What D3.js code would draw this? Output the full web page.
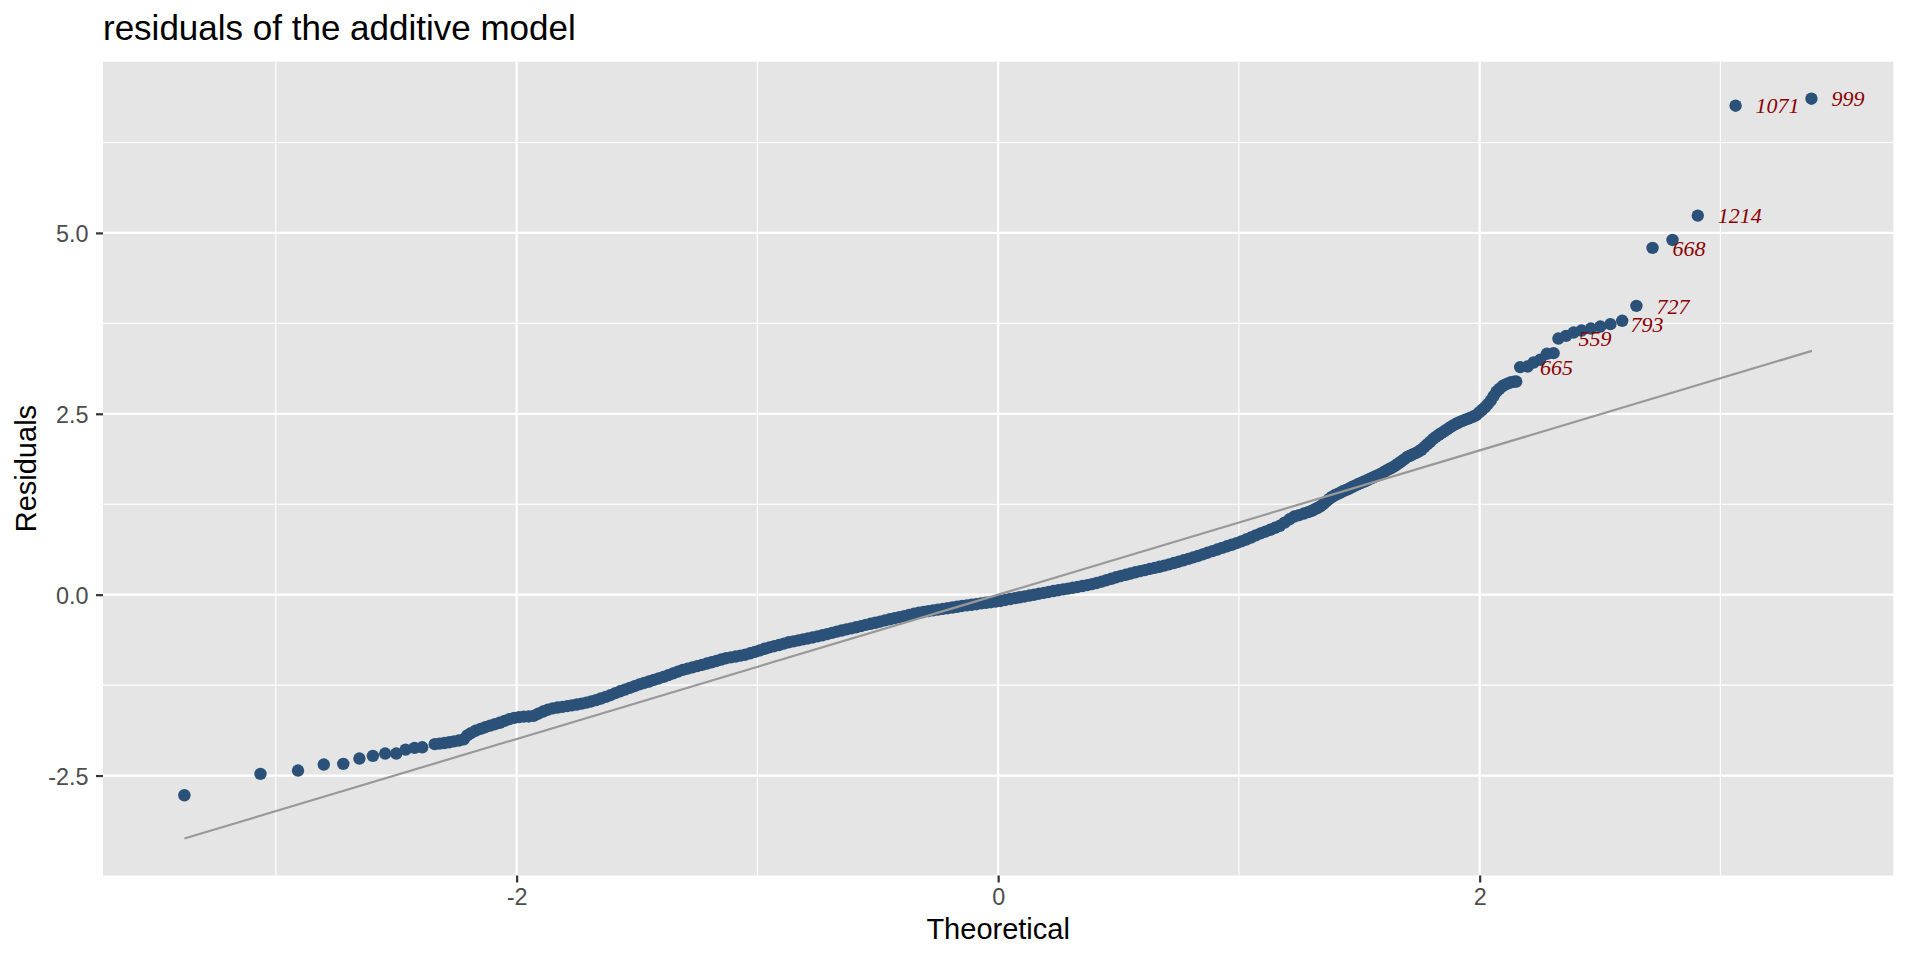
<!DOCTYPE html>
<html>
<head>
<meta charset="utf-8">
<script src="https://cdn.jsdelivr.net/npm/d3@7"></script>
<style>
  html, body { margin: 0; padding: 0; background: #fff; }
  svg text { font-family: "Liberation Sans", Arial, Helvetica, sans-serif; }
</style>
</head>
<body>
<div id="chart"></div>
<script>
// values: [theoretical quantile, residual]
const lowerTail = [
  [-3.380, -2.772], [-3.064, -2.477], [-2.908, -2.431], [-2.801, -2.348],
  [-2.720, -2.339], [-2.653, -2.265], [-2.597, -2.228], [-2.546, -2.196],
  [-2.500, -2.196], [-2.461, -2.141], [-2.424, -2.118], [-2.392, -2.109]
];

// the dense part of the curve, where the dots run together
const band = [
  [-2.34, -2.066], [-2.32, -2.058], [-2.30, -2.050], [-2.28, -2.040], [-2.26, -2.028],
  [-2.24, -2.016], [-2.22, -2.000], [-2.205, -1.945], [-2.19, -1.915], [-2.17, -1.880],
  [-2.15, -1.855], [-2.13, -1.832], [-2.11, -1.810], [-2.09, -1.790], [-2.07, -1.770],
  [-2.05, -1.744], [-2.03, -1.720], [-2.01, -1.703], [-1.99, -1.692], [-1.97, -1.686],
  [-1.95, -1.683], [-1.93, -1.675], [-1.91, -1.645], [-1.89, -1.615], [-1.87, -1.590],
  [-1.85, -1.572], [-1.83, -1.560], [-1.81, -1.550], [-1.79, -1.540], [-1.77, -1.530],
  [-1.75, -1.518], [-1.73, -1.506], [-1.71, -1.492], [-1.69, -1.476], [-1.67, -1.458],
  [-1.65, -1.435], [-1.63, -1.412], [-1.61, -1.388], [-1.59, -1.360], [-1.57, -1.335],
  [-1.55, -1.312], [-1.53, -1.288], [-1.51, -1.264], [-1.49, -1.240], [-1.47, -1.220],
  [-1.45, -1.200], [-1.43, -1.178], [-1.41, -1.158], [-1.39, -1.136], [-1.37, -1.112],
  [-1.35, -1.088], [-1.33, -1.064], [-1.31, -1.040], [-1.29, -1.022], [-1.27, -1.005],
  [-1.25, -0.988], [-1.23, -0.970], [-1.21, -0.952], [-1.19, -0.934], [-1.17, -0.916],
  [-1.15, -0.896], [-1.13, -0.878], [-1.11, -0.866], [-1.09, -0.855], [-1.07, -0.843],
  [-1.05, -0.830], [-1.03, -0.810], [-1.01, -0.790], [-0.99, -0.770], [-0.97, -0.748],
  [-0.95, -0.729], [-0.93, -0.712], [-0.91, -0.696], [-0.89, -0.677], [-0.87, -0.658],
  [-0.85, -0.645], [-0.83, -0.632], [-0.81, -0.618], [-0.79, -0.605], [-0.77, -0.591],
  [-0.75, -0.576], [-0.73, -0.561], [-0.71, -0.545], [-0.69, -0.528], [-0.67, -0.511],
  [-0.65, -0.495], [-0.63, -0.480], [-0.61, -0.466], [-0.59, -0.451], [-0.57, -0.434],
  [-0.55, -0.417], [-0.53, -0.402], [-0.51, -0.388], [-0.49, -0.372], [-0.47, -0.355],
  [-0.45, -0.340], [-0.43, -0.325], [-0.41, -0.311], [-0.39, -0.296], [-0.37, -0.281],
  [-0.35, -0.264], [-0.33, -0.250], [-0.31, -0.239], [-0.29, -0.228], [-0.27, -0.217],
  [-0.25, -0.206], [-0.23, -0.196], [-0.21, -0.187], [-0.19, -0.178], [-0.17, -0.167],
  [-0.15, -0.156], [-0.13, -0.148], [-0.11, -0.140], [-0.09, -0.132], [-0.07, -0.120],
  [-0.05, -0.112], [-0.03, -0.104], [-0.01, -0.096], [0.01, -0.087], [0.03, -0.073],
  [0.05, -0.060], [0.07, -0.048], [0.09, -0.036], [0.11, -0.025], [0.13, -0.012],
  [0.15, 0.000], [0.17, 0.013], [0.19, 0.025], [0.21, 0.038], [0.23, 0.050],
  [0.25, 0.062], [0.27, 0.073], [0.29, 0.084], [0.31, 0.095], [0.33, 0.107],
  [0.35, 0.119], [0.37, 0.132], [0.39, 0.146], [0.41, 0.162], [0.43, 0.181],
  [0.45, 0.200], [0.47, 0.220], [0.49, 0.240], [0.51, 0.259], [0.53, 0.275],
  [0.55, 0.292], [0.57, 0.309], [0.59, 0.325], [0.61, 0.340], [0.63, 0.356],
  [0.65, 0.371], [0.67, 0.385], [0.69, 0.402], [0.71, 0.419], [0.73, 0.437],
  [0.75, 0.456], [0.77, 0.475], [0.79, 0.495], [0.81, 0.515], [0.83, 0.535],
  [0.85, 0.557], [0.87, 0.580], [0.89, 0.602], [0.91, 0.624], [0.93, 0.647],
  [0.95, 0.669], [0.97, 0.690], [0.99, 0.712], [1.01, 0.736], [1.03, 0.762],
  [1.05, 0.790], [1.07, 0.820], [1.09, 0.847], [1.11, 0.872], [1.13, 0.897],
  [1.15, 0.924], [1.17, 0.952], [1.19, 0.996], [1.21, 1.042], [1.23, 1.080],
  [1.25, 1.100], [1.27, 1.121], [1.29, 1.143],
  [1.302, 1.158], [1.314, 1.178], [1.326, 1.198], [1.338, 1.220], [1.350, 1.250],
  [1.362, 1.285], [1.374, 1.320], [1.386, 1.350], [1.398, 1.374], [1.410, 1.392],
  [1.422, 1.412], [1.434, 1.432], [1.446, 1.448], [1.458, 1.467], [1.470, 1.488],
  [1.482, 1.507], [1.494, 1.526], [1.506, 1.543], [1.518, 1.560], [1.530, 1.577],
  [1.542, 1.596], [1.554, 1.616], [1.566, 1.635], [1.578, 1.652], [1.590, 1.673],
  [1.602, 1.695], [1.614, 1.717], [1.626, 1.740], [1.638, 1.760], [1.650, 1.785],
  [1.662, 1.812], [1.674, 1.840], [1.686, 1.870], [1.698, 1.900], [1.710, 1.920],
  [1.722, 1.938], [1.734, 1.956], [1.746, 1.978], [1.758, 2.003], [1.770, 2.040],
  [1.782, 2.076], [1.794, 2.112], [1.806, 2.150], [1.818, 2.180], [1.830, 2.210],
  [1.842, 2.236], [1.854, 2.262], [1.866, 2.287], [1.878, 2.315], [1.890, 2.340],
  [1.902, 2.362], [1.914, 2.382], [1.926, 2.399], [1.938, 2.415], [1.950, 2.430],
  [1.962, 2.446], [1.974, 2.462], [1.986, 2.482], [1.998, 2.518], [2.010, 2.555],
  [2.022, 2.590], [2.034, 2.635], [2.046, 2.683], [2.058, 2.745], [2.070, 2.805],
  [2.082, 2.845], [2.094, 2.880], [2.106, 2.902], [2.118, 2.920], [2.130, 2.935],
  [2.142, 2.942], [2.152, 2.946]
];

const upperTail = [
  [2.199, 3.153], [2.224, 3.209], [2.251, 3.246], [2.279, 3.329],
  [2.307, 3.338], [2.359, 3.577], [2.390, 3.623], [2.423, 3.651],
  [2.462, 3.678], [2.501, 3.706], [2.592, 3.785], [2.801, 4.903]
];

// labelled outliers
const outlierIds   = ["665", "559", "793", "727", "668", "1214", "1071", "999"];
const outlierTheo  = [2.168, 2.327, 2.543, 2.651, 2.718, 2.906, 3.063, 3.378];
const outlierResid = [3.145, 3.540, 3.739, 3.992, 4.793, 5.239, 6.758, 6.855];

// reference line end points
const lineTheo  = [-3.38, 3.38];
const lineResid = [-3.37, 3.37];

const xMajor = [-2, 0, 2];
const xMinor = [-3, -1, 1, 3];
const yMajor = [-2.5, 0, 2.5, 5];
const yMinor = [-1.25, 1.25, 3.75, 6.25];

const titleText = "residuals of the additive model";
const xTitle = "Theoretical";
const yTitle = "Residuals";

const width = 1920, height = 960;
const margin = { top: 61.7, right: 26.7, bottom: 84.5, left: 103 };

const outliers = outlierIds.map((id, i) => ({ id: id, x: outlierTheo[i], y: outlierResid[i] }));
const points = lowerTail.concat(band, upperTail).map(d => ({ x: d[0], y: d[1] }))
  .concat(outliers);

// ggplot style 5% expansion
function expand(ext) {
  const pad = (ext[1] - ext[0]) * 0.05;
  return [ext[0] - pad, ext[1] + pad];
}
const xExt = d3.extent(points.map(d => d.x).concat(lineTheo));
const yExt = d3.extent(points.map(d => d.y).concat(lineResid));

const x = d3.scaleLinear().domain(expand(xExt)).range([margin.left, width - margin.right]);
const y = d3.scaleLinear().domain(expand(yExt)).range([height - margin.bottom, margin.top]);

const svg = d3.select("#chart").append("svg")
  .attr("width", width)
  .attr("height", height);

svg.append("rect")
  .attr("x", margin.left)
  .attr("y", margin.top)
  .attr("width", width - margin.left - margin.right)
  .attr("height", height - margin.top - margin.bottom)
  .attr("fill", "#E5E5E5");

const grid = svg.append("g");
grid.selectAll(".ymin").data(yMinor).enter().append("line")
  .attr("x1", margin.left).attr("x2", width - margin.right)
  .attr("y1", d => y(d)).attr("y2", d => y(d))
  .attr("stroke", "#fff").attr("stroke-width", 1.1);
grid.selectAll(".xmin").data(xMinor).enter().append("line")
  .attr("y1", margin.top).attr("y2", height - margin.bottom)
  .attr("x1", d => x(d)).attr("x2", d => x(d))
  .attr("stroke", "#fff").attr("stroke-width", 1.1);
grid.selectAll(".ymaj").data(yMajor).enter().append("line")
  .attr("x1", margin.left).attr("x2", width - margin.right)
  .attr("y1", d => y(d)).attr("y2", d => y(d))
  .attr("stroke", "#fff").attr("stroke-width", 2.2);
grid.selectAll(".xmaj").data(xMajor).enter().append("line")
  .attr("y1", margin.top).attr("y2", height - margin.bottom)
  .attr("x1", d => x(d)).attr("x2", d => x(d))
  .attr("stroke", "#fff").attr("stroke-width", 2.2);

// points
svg.append("g").selectAll("circle")
  .data(points)
  .enter().append("circle")
  .attr("cx", d => x(d.x))
  .attr("cy", d => y(d.y))
  .attr("r", 6.2)
  .attr("fill", "#2B5178");

// reference line
svg.append("path")
  .datum(lineTheo.map((t, i) => [t, lineResid[i]]))
  .attr("d", d3.line().x(d => x(d[0])).y(d => y(d[1])))
  .attr("fill", "none")
  .attr("stroke", "#999999")
  .attr("stroke-width", 2.2);

// outlier labels
svg.append("g").selectAll("text")
  .data(outliers)
  .enter().append("text")
  .attr("x", d => x(d.x) + 20)
  .attr("y", d => y(d.y))
  .attr("dy", "0.35em")
  .style("font-family", "'Liberation Serif', 'Times New Roman', Times, serif")
  .style("font-style", "italic")
  .style("font-size", "22px")
  .attr("fill", "#8B0000")
  .text(d => d.id);

// axes
const xAxis = svg.append("g")
  .attr("transform", `translate(0,${height - margin.bottom})`)
  .call(d3.axisBottom(x).tickValues(xMajor).tickSize(7).tickPadding(6).tickFormat(d => String(d)));
const yAxis = svg.append("g")
  .attr("transform", `translate(${margin.left},0)`)
  .call(d3.axisLeft(y).tickValues(yMajor).tickSize(7).tickPadding(7.4).tickFormat(d => d.toFixed(1)));

[xAxis, yAxis].forEach(g => {
  g.select(".domain").remove();
  g.selectAll(".tick line").attr("stroke", "#333333").attr("stroke-width", 2.2);
  g.selectAll(".tick text")
    .attr("fill", "#4D4D4D")
    .style("font-size", "23.4px")
    .style("font-family", "'Liberation Sans', Arial, sans-serif");
});
yAxis.selectAll(".tick text").attr("dy", "0.38em");

// titles
svg.append("text")
  .attr("x", margin.left)
  .attr("y", 40)
  .style("font-size", "35px")
  .attr("fill", "#000")
  .text(titleText);

svg.append("text")
  .attr("x", (margin.left + width - margin.right) / 2)
  .attr("y", 939)
  .attr("text-anchor", "middle")
  .style("font-size", "29px")
  .attr("fill", "#000")
  .text(xTitle);

svg.append("text")
  .attr("transform", `translate(36,${(margin.top + height - margin.bottom) / 2}) rotate(-90)`)
  .attr("text-anchor", "middle")
  .style("font-size", "29px")
  .attr("fill", "#000")
  .text(yTitle);
</script>
</body>
</html>
